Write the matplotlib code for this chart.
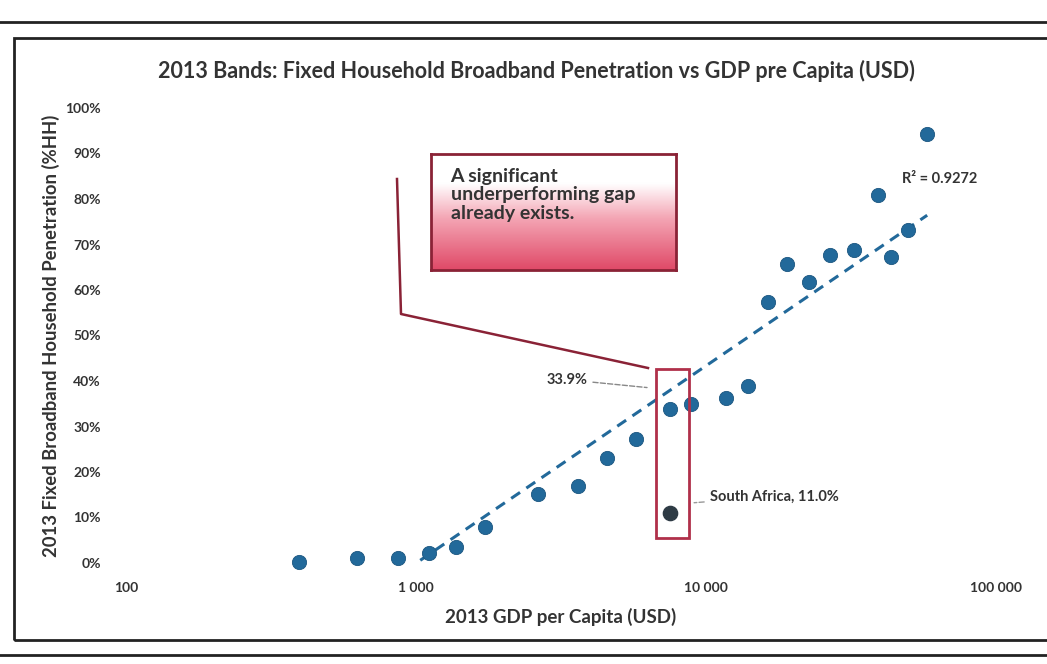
import numpy as np
import matplotlib
matplotlib.use("Agg")
import matplotlib.pyplot as plt
from matplotlib.patches import Rectangle
from matplotlib.lines import Line2D
from matplotlib.colors import LinearSegmentedColormap

# 2013 GDP per capita (USD) and fixed household broadband penetration (%HH)
gdp = [395, 625, 870, 1110, 1370, 1730, 2630, 3630, 4570, 5730, 7540, 8850,
       11750, 14000, 16300, 19000, 22700, 26700, 32500, 39300, 43600, 49600, 57900]
penetration = [0.2, 1.0, 1.1, 2.2, 3.5, 7.9, 15.1, 16.9, 23.0, 27.3, 33.8, 35.0,
               36.3, 38.9, 57.3, 65.8, 61.7, 67.8, 68.9, 80.9, 67.2, 73.2, 94.3]
sa_gdp = 7540
sa_pen = 11.0
sa_trend_label = "33.9%"
r2_label = "R\u00b2 = 0.9272"

x_ticks = [100, 1000, 10000, 100000]
x_tick_labels = ["100", "1 000", "10 000", "100 000"]
y_ticks = list(range(0, 101, 10))
y_tick_labels = [f"{t}%" for t in y_ticks]

BLUE = "#22699a"
TXT = "#333333"
RED = "#b0304a"
FONT = "Lato"

plt.rcParams['font.family'] = [FONT, 'DejaVu Sans']

fig = plt.figure(figsize=(10.47, 6.64), dpi=100)
ax = fig.add_axes([126 / 1047, 101 / 664, 870 / 1047, 455 / 664])
ax.set_xscale("log")
ax.set_xlim(100, 100000)
ax.set_ylim(0, 100)

# log trendline fitted on all points (incl. South Africa), like Excel
all_x = np.array(gdp + [sa_gdp], dtype=float)
all_y = np.array(penetration + [sa_pen])
a, b = np.polyfit(np.log(all_x), all_y, 1)
xt = np.logspace(np.log10(all_x.min()), np.log10(all_x.max()), 200)
ax.plot(xt, a * np.log(xt) + b, color=BLUE, lw=2.2, ls=(0, (3.5, 2.5)), zorder=2)

ax.scatter(gdp, penetration, s=105, color=BLUE, edgecolors="#1b5680", linewidths=0.6,
           zorder=3, clip_on=False)
ax.scatter([sa_gdp], [sa_pen], s=105, color="#2e3b45", zorder=3, clip_on=False)

for s in ax.spines.values():
    s.set_visible(False)
ax.set_xticks(x_ticks)
ax.set_xticklabels(x_tick_labels)
ax.xaxis.set_minor_locator(matplotlib.ticker.NullLocator())
ax.set_yticks(y_ticks)
ax.set_yticklabels(y_tick_labels)
ax.tick_params(length=0, colors=TXT, labelsize=10)
ax.tick_params(axis="x", pad=14)
ax.tick_params(axis="y", pad=18)
for lab in ax.get_xticklabels() + ax.get_yticklabels():
    lab.set_fontweight("bold")

ax.set_xlabel("2013 GDP per Capita (USD)", fontsize=13.5, fontweight="bold", color=TXT, labelpad=10)
ax.set_ylabel("2013 Fixed Broadband Household Penetration (%HH)", fontsize=13.3,
              fontweight="bold", color=TXT, labelpad=4)
fig.text(536 / 1047, 1 - 71 / 664,
         "2013 Bands: Fixed Household Broadband Penetration vs GDP pre Capita (USD)",
         ha="center", va="center", fontsize=15.5, fontweight="bold", color=TXT)

# highlight rectangle around South Africa's gap
ax.add_patch(Rectangle((6730, 5.6), 8730 - 6730, 42.6 - 5.6, fill=False,
                       edgecolor=RED, lw=2, zorder=4))

# callout box with gradient
box = [431 / 1047, 1 - 270 / 664, (676 - 431) / 1047, (270 - 154) / 664]
bax = fig.add_axes(box)
cmap = LinearSegmentedColormap.from_list("g", [(0, "#e04a68"), (0.45, "#f4a6b5"), (0.75, "#ffffff"), (1, "#ffffff")])
grad = np.linspace(0, 1, 100).reshape(-1, 1)
bax.imshow(grad, aspect="auto", cmap=cmap, origin="lower", extent=[0, 1, 0, 1])
bax.set_xticks([])
bax.set_yticks([])
for s in bax.spines.values():
    s.set_edgecolor("#8a2236")
    s.set_linewidth(2)
bax.text(0.08, 0.88, "A significant\nunderperforming gap\nalready exists.", transform=bax.transAxes,
         ha="left", va="top", fontsize=14, fontweight="bold", color=TXT, linespacing=1.1)

# connector from callout to highlight rectangle
px = [397, 401, 648]
py = [179, 314, 368]
fig.add_artist(Line2D([p / 1047 for p in px], [1 - p / 664 for p in py], color="#8a2236", lw=1.8))

# data labels
ax.annotate(sa_trend_label, xy=(6400, 38.5), xytext=(3900, 40.3), fontsize=10.5, fontweight="bold",
            color=TXT, ha="right", va="center",
            arrowprops=dict(arrowstyle="-", color="#888888", lw=1, ls="--"))
ax.annotate(f"South Africa, {sa_pen:.1f}%", xy=(8900, 13.2), xytext=(10300, 14.6), fontsize=10.5,
            fontweight="bold", color=TXT, ha="left", va="center",
            arrowprops=dict(arrowstyle="-", color="#999999", lw=1, ls="--"))
ax.text(47400, 84.4, r2_label, fontsize=10.5, fontweight="bold", color=TXT, ha="left", va="center")

# page frame lines of the scan
fig.add_artist(Rectangle((14 / 1047, 1 - 640 / 664), 1.05, (640 - 38) / 664, transform=fig.transFigure,
                         fill=False, edgecolor="#222222", lw=2))
fig.add_artist(Line2D([0, 1], [1 - 22 / 664] * 2, color="#222222", lw=2))
fig.add_artist(Line2D([0, 1], [1 - 655 / 664] * 2, color="#222222", lw=2))

fig.savefig("out.png", dpi=100)
